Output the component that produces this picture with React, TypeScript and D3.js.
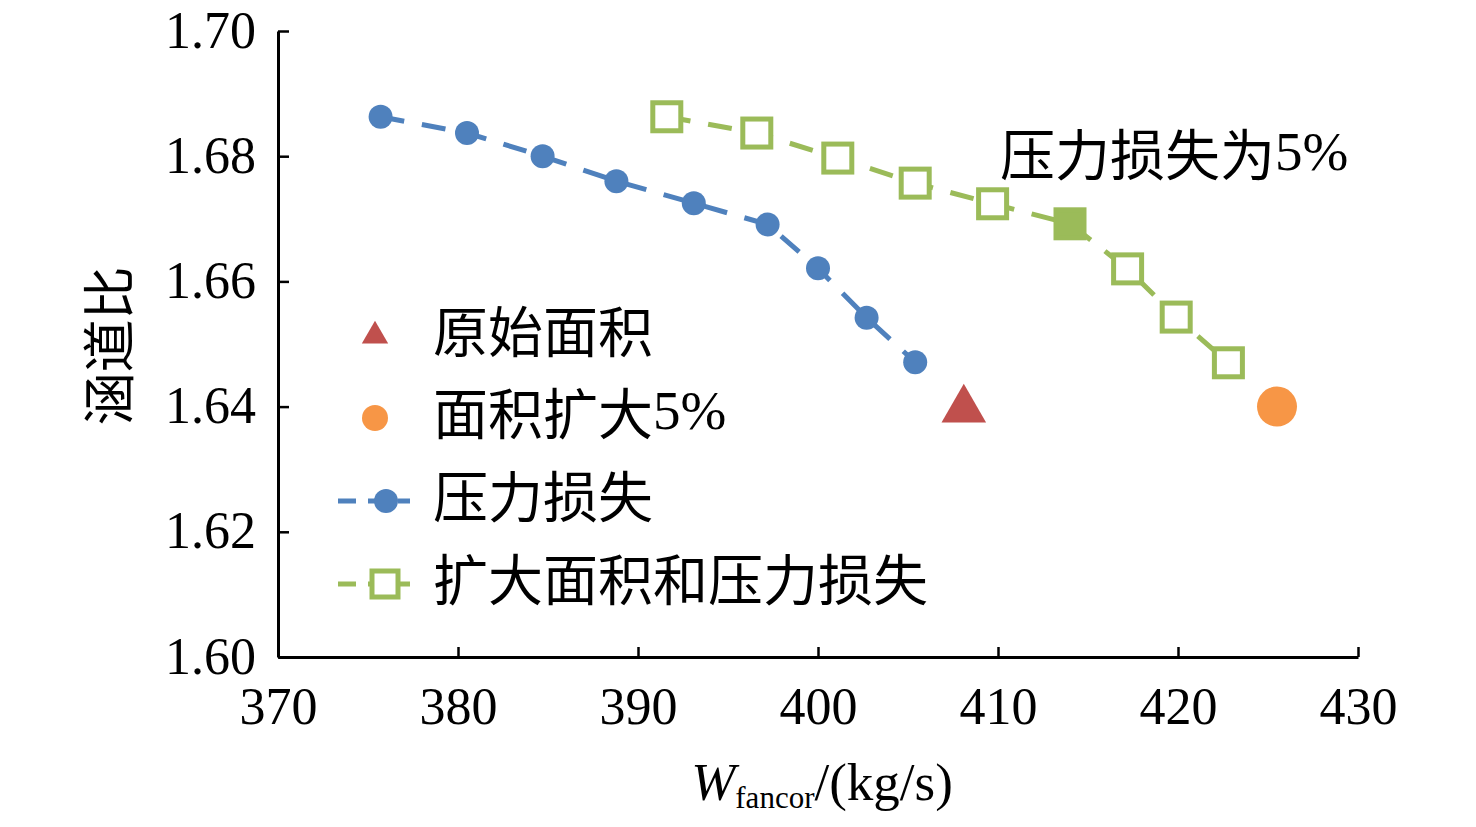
import { useEffect, useRef } from "react";
import * as d3 from "d3";

// bypass ratio vs corrected fan flow
const lossX = [375.7, 380.5, 384.7, 388.8, 393.1, 397.2, 400.0, 402.7, 405.4];
const lossY = [1.6863, 1.6837, 1.68, 1.676, 1.6725, 1.6691, 1.6621, 1.6542, 1.6471];
const bothX = [391.6, 396.6, 401.1, 405.4, 409.7, 414.0, 417.2, 419.9, 422.8];
const bothY = [1.6863, 1.6837, 1.6797, 1.6757, 1.6724, 1.6692, 1.662, 1.6543, 1.647];
const highlightIndex = 5; // point at 5% pressure loss
const originalPoint = [408.1, 1.64];
const enlargedPoint = [425.5, 1.64];
const xTicks = [370, 380, 390, 400, 410, 420, 430];
const yTicks = [1.6, 1.62, 1.64, 1.66, 1.68, 1.7];
const legendLabels = ["原始面积", "面积扩大5%", "压力损失", "扩大面积和压力损失"];

const LATIN = "'Liberation Serif', 'Times New Roman', serif";
const CJK = "'Noto Sans CJK SC', sans-serif";
const BLUE = "#4F81BD";
const GREEN = "#9BBB59";
const RED = "#C0504D";
const ORANGE = "#F79646";

// split mixed text so Han glyphs and latin glyphs get their own font
function mixedText(sel: d3.Selection<SVGTextElement, any, any, any>, str: string) {
  const parts = str.match(/[\u4e00-\u9fff]+|[^\u4e00-\u9fff]+/g) || [];
  parts.forEach((p) => {
    sel.append("tspan")
      .style("font-family", /[\u4e00-\u9fff]/.test(p) ? CJK : LATIN)
      .text(p);
  });
}

export default function App() {
  const svgRef = useRef<SVGSVGElement | null>(null);

  useEffect(() => {
    if (!svgRef.current) return;
    const svg = d3.select(svgRef.current);
    svg.selectAll("*").remove();

    const x = d3.scaleLinear().domain([370, 430]).range([278, 1358]);
    const y = d3.scaleLinear().domain([1.6, 1.7]).range([657, 31]);

    // axes
    const xAxis = svg.append("g").attr("transform", `translate(0,${y(1.6)})`);
    xAxis.call(d3.axisBottom(x).tickValues(xTicks).tickSizeInner(-10).tickSizeOuter(0).tickFormat(d3.format("d")) as any);
    xAxis.attr("font-family", null).attr("font-size", null);
    xAxis.select(".domain").attr("stroke", "#000").attr("stroke-width", 3);
    xAxis.selectAll(".tick line").attr("stroke", "#000").attr("stroke-width", 2.5);
    xAxis.selectAll(".tick text")
      .attr("y", 67)
      .attr("dy", 0)
      .attr("fill", "#000")
      .style("font-family", LATIN)
      .style("font-size", "52px");

    const yAxis = svg.append("g").attr("transform", `translate(${x(370)},0)`);
    yAxis.call(d3.axisLeft(y).tickValues(yTicks).tickSizeInner(-11).tickSizeOuter(0).tickFormat(d3.format(".2f")) as any);
    yAxis.attr("font-family", null).attr("font-size", null);
    yAxis.select(".domain").attr("stroke", "#000").attr("stroke-width", 3);
    yAxis.selectAll(".tick line").attr("stroke", "#000").attr("stroke-width", 2.5);
    yAxis.selectAll(".tick text")
      .attr("x", -22)
      .attr("dy", "0.31em")
      .attr("fill", "#000")
      .style("font-family", LATIN)
      .style("font-size", "52px");

    // axis titles
    svg.append("text")
      .attr("transform", "translate(106,346) rotate(-90)")
      .attr("text-anchor", "middle")
      .attr("dominant-baseline", "central")
      .style("font-family", CJK)
      .style("font-size", "53px")
      .text("涵道比");

    const xt = svg.append("text")
      .attr("x", 822)
      .attr("y", 800)
      .attr("text-anchor", "middle")
      .style("font-family", LATIN)
      .style("font-size", "53px");
    xt.append("tspan").style("font-style", "italic").text("W");
    xt.append("tspan").attr("dy", 8).style("font-size", "31px").text("fancor");
    xt.append("tspan").attr("dy", -8).text("/(kg/s)");

    // pressure loss series
    const lossPts = lossX.map((v, i) => [x(v), y(lossY[i])] as [number, number]);
    svg.append("path")
      .attr("d", d3.line()(lossPts))
      .attr("fill", "none")
      .attr("stroke", BLUE)
      .attr("stroke-width", 5)
      .attr("stroke-dasharray", "24 18");
    svg.selectAll(".lossDot")
      .data(lossPts)
      .join("circle")
      .attr("cx", (d) => d[0])
      .attr("cy", (d) => d[1])
      .attr("r", 12)
      .attr("fill", BLUE);

    // enlarged area + pressure loss series
    const bothPts = bothX.map((v, i) => [x(v), y(bothY[i])] as [number, number]);
    svg.append("path")
      .attr("d", d3.line()(bothPts))
      .attr("fill", "none")
      .attr("stroke", GREEN)
      .attr("stroke-width", 5)
      .attr("stroke-dasharray", "24 18");
    svg.selectAll(".bothSq")
      .data(bothPts)
      .join("rect")
      .attr("x", (d) => d[0] - 14)
      .attr("y", (d) => d[1] - 14)
      .attr("width", 28)
      .attr("height", 28)
      .attr("fill", (_, i) => (i === highlightIndex ? GREEN : "#fff"))
      .attr("stroke", GREEN)
      .attr("stroke-width", 5);

    // single points
    const tri = d3.symbol().type(d3.symbolTriangle).size(860);
    svg.append("path")
      .attr("d", tri()!)
      .attr("transform", `translate(${x(originalPoint[0])},${y(originalPoint[1]) + 3})`)
      .attr("fill", RED);
    svg.append("circle")
      .attr("cx", x(enlargedPoint[0]))
      .attr("cy", y(enlargedPoint[1]))
      .attr("r", 20)
      .attr("fill", ORANGE);

    // annotation
    const ann = svg.append("text")
      .attr("x", 1000)
      .attr("y", 151)
      .attr("dominant-baseline", "central")
      .style("font-size", "55px");
    mixedText(ann, "压力损失为5%");

    // legend
    const rows = [333, 415, 498, 581];
    const lg = svg.append("g");
    legendLabels.forEach((label, i) => {
      const t = lg.append("text")
        .attr("x", 433)
        .attr("y", rows[i] - 5)
        .attr("dominant-baseline", "central")
        .style("font-size", "55px");
      mixedText(t, label);
    });

    lg.append("path")
      .attr("d", d3.symbol().type(d3.symbolTriangle).size(300)()!)
      .attr("transform", `translate(375,${rows[0] + 3})`)
      .attr("fill", RED);
    lg.append("circle").attr("cx", 375).attr("cy", rows[1] + 3).attr("r", 13).attr("fill", ORANGE);

    lg.append("line")
      .attr("x1", 338).attr("x2", 410)
      .attr("y1", rows[2] + 3).attr("y2", rows[2] + 3)
      .attr("stroke", BLUE).attr("stroke-width", 5)
      .attr("stroke-dasharray", "18 12");
    lg.append("circle").attr("cx", 386).attr("cy", rows[2] + 3).attr("r", 12).attr("fill", BLUE);

    lg.append("line")
      .attr("x1", 338).attr("x2", 410)
      .attr("y1", rows[3] + 3).attr("y2", rows[3] + 3)
      .attr("stroke", GREEN).attr("stroke-width", 5)
      .attr("stroke-dasharray", "18 12");
    lg.append("rect")
      .attr("x", 372).attr("y", rows[3] + 3 - 13)
      .attr("width", 26).attr("height", 26)
      .attr("fill", "#fff").attr("stroke", GREEN).attr("stroke-width", 5);
  }, []);

  return (
    <svg
      ref={svgRef}
      width={1476}
      height={827}
      style={{ position: "absolute", left: 0, top: 0, background: "#fff" }}
    />
  );
}
